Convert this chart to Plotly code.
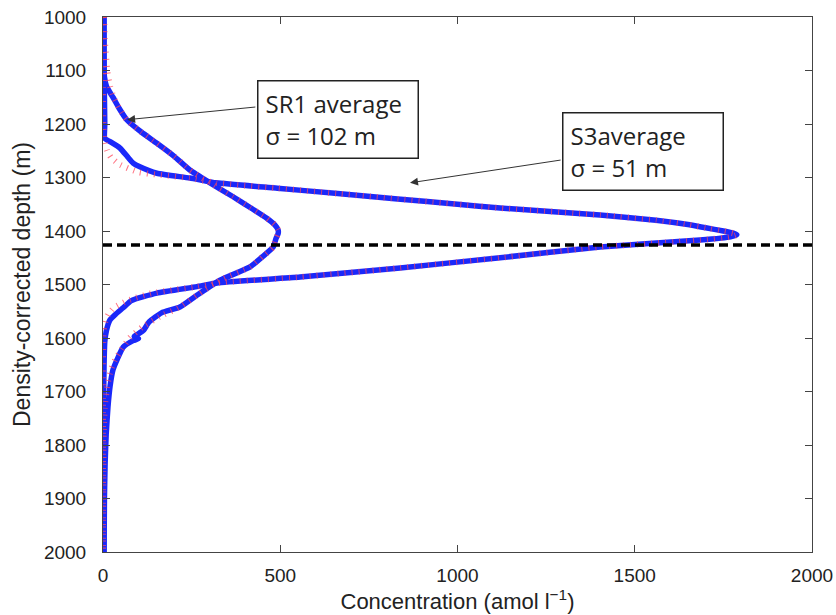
import plotly.graph_objects as go

# ---- data ----
s3_depth = [1000, 1050, 1100, 1150, 1200, 1227, 1233, 1245, 1262, 1273, 1280, 1292, 1301, 1310, 1320, 1330,
            1340, 1350, 1357, 1370, 1380, 1388, 1394, 1400, 1404, 1407, 1411, 1417, 1430, 1450, 1469, 1486,
            1497, 1504, 1516, 1530, 1544, 1556, 1566, 1585, 1607, 1650, 1700, 1800, 1900, 2000]
s3_conc = [2, 2, 3, 4, 5, 5, 20, 48, 70, 85, 104, 152, 245, 320, 492, 662,
           831, 1000, 1120, 1402, 1560, 1650, 1700, 1750, 1778, 1788, 1770, 1684, 1402, 1120, 838, 556,
           322, 265, 152, 80, 56, 35, 20, 10, 5, 3, 2, 2, 2, 2]

s3_fit_depth = [1000, 1150, 1200, 1230, 1250, 1262, 1275, 1290, 1301, 1310, 1320, 1330, 1340, 1350, 1357,
                1370, 1380, 1388, 1394, 1400, 1404, 1407, 1411, 1417, 1430, 1450, 1469, 1486, 1497, 1504,
                1516, 1530, 1544, 1556, 1566, 1580, 1600, 1700, 2000]
s3_fit_conc = [0, 0, 1, 4, 12, 22, 45, 100, 245, 320, 492, 662, 831, 1000, 1120,
               1402, 1560, 1650, 1700, 1750, 1778, 1788, 1770, 1684, 1402, 1120, 838, 556, 322, 265,
               140, 70, 30, 15, 8, 3, 1, 0, 0]

sr1_depth = [1000, 1050, 1100, 1112, 1130, 1150, 1170, 1192, 1215, 1236, 1260, 1286, 1310, 1336, 1356,
             1376, 1388, 1398, 1405, 1414, 1430, 1448, 1467, 1492, 1520, 1542, 1553, 1570, 1585,
             1592, 1597, 1601, 1605, 1617, 1640, 1660, 1690, 1729, 1780, 1834, 1900, 2000]
sr1_conc = [3, 3, 3, 4, 10, 28, 45, 67, 108, 152, 200, 245, 302, 367, 415,
            462, 484, 494, 494, 488, 480, 450, 415, 330, 265, 217, 165, 130, 115,
            100, 88, 100, 85, 57, 40, 28, 20, 14, 9, 6, 4, 3]

sr1_fit_depth = [1000, 1050, 1100, 1130, 1150, 1170, 1192, 1215, 1236, 1260, 1286, 1310, 1336, 1356, 1376,
                 1388, 1398, 1405, 1414, 1430, 1448, 1467, 1492, 1520, 1542, 1560, 1580, 1600, 1622,
                 1641, 1660, 1690, 1730, 1780, 1850, 2000]
sr1_fit_conc = [3, 6, 12, 20, 30, 45, 67, 108, 152, 200, 245, 302, 367, 415, 462,
                484, 494, 494, 488, 480, 450, 415, 330, 265, 217, 160, 110, 75, 52,
                34, 22, 12, 5, 2, 1, 0]

ref_line_x = [0, 2000]
ref_depth = 1426

x_ticks = [0, 500, 1000, 1500, 2000]
y_ticks = [1000, 1100, 1200, 1300, 1400, 1500, 1600, 1700, 1800, 1900, 2000]

BLUE = "#1a28fa"
RED = "rgba(255,70,90,0.75)"

fig = go.Figure()
for xs, ys in [(sr1_conc, sr1_depth), (s3_conc, s3_depth)]:
    fig.add_trace(go.Scatter(x=xs, y=ys, mode="lines",
                             line=dict(color=BLUE, width=5.5, shape="spline", smoothing=0.5),
                             showlegend=False, hoverinfo="skip"))
for xs, ys in [(sr1_fit_conc, sr1_fit_depth), (s3_fit_conc, s3_fit_depth)]:
    fig.add_trace(go.Scatter(x=xs, y=ys, mode="lines",
                             line=dict(color=RED, width=6, dash="1px,6px", shape="spline", smoothing=0.5),
                             showlegend=False, hoverinfo="skip"))
fig.add_trace(go.Scatter(x=ref_line_x, y=[ref_depth, ref_depth], mode="lines",
                         line=dict(color="black", width=3.5, dash="9px,5px"), showlegend=False,
                         hoverinfo="skip"))

box_font = dict(family="Open Sans", size=24, color="#222")
fig.add_annotation(x=663, y=1191, xref="x", yref="y", text="SR1 average<br>σ = 102 m",
                   showarrow=False, align="left", font=box_font, bordercolor="#222", borderwidth=1.5,
                   borderpad=7, bgcolor="white", width=145, height=62)
fig.add_annotation(x=1523, y=1252, xref="x", yref="y", text="S3average<br>σ = 51 m",
                   showarrow=False, align="left", font=box_font, bordercolor="#222", borderwidth=1.5,
                   borderpad=7, bgcolor="white", width=145, height=62)
fig.add_annotation(x=68, y=1192, ax=434, ay=1168, xref="x", yref="y", axref="x", ayref="y",
                   text="", showarrow=True, arrowhead=2, arrowsize=1.6, arrowwidth=1, arrowcolor="#333")
fig.add_annotation(x=866, y=1310, ax=1295, ay=1267, xref="x", yref="y", axref="x", ayref="y",
                   text="", showarrow=True, arrowhead=2, arrowsize=1.6, arrowwidth=1, arrowcolor="#333")

tick_font = dict(family="Liberation Sans, Arial", size=19, color="#222")
fig.update_layout(
    width=836, height=615,
    margin=dict(l=103, r=24, t=17, b=63),
    plot_bgcolor="white", paper_bgcolor="white",
    xaxis=dict(range=[0, 2000], tickvals=x_ticks, ticks="inside", ticklen=7, tickcolor="#444",
               showline=True, linecolor="#444", linewidth=1, mirror="allticks", showgrid=False,
               zeroline=False, tickfont=tick_font, automargin=False, ticklabelstandoff=6,
               title=dict(text="Concentration (amol l<sup>−1</sup>)", standoff=4,
                          font=dict(family="Liberation Sans, Arial", size=22, color="#222"))),
    yaxis=dict(range=[2000, 1000], tickvals=y_ticks, ticks="inside", ticklen=7, tickcolor="#444",
               showline=True, linecolor="#444", linewidth=1, mirror="allticks", showgrid=False,
               zeroline=False, tickfont=tick_font, automargin=False, ticklabelstandoff=12,
               title=dict(text="Density-corrected depth (m)", standoff=6,
                          font=dict(family="Liberation Sans, Arial", size=23, color="#222"))),
)

fig.write_html("out.html", config={"displayModeBar": False},
               post_script="document.body.style.margin='0';")
